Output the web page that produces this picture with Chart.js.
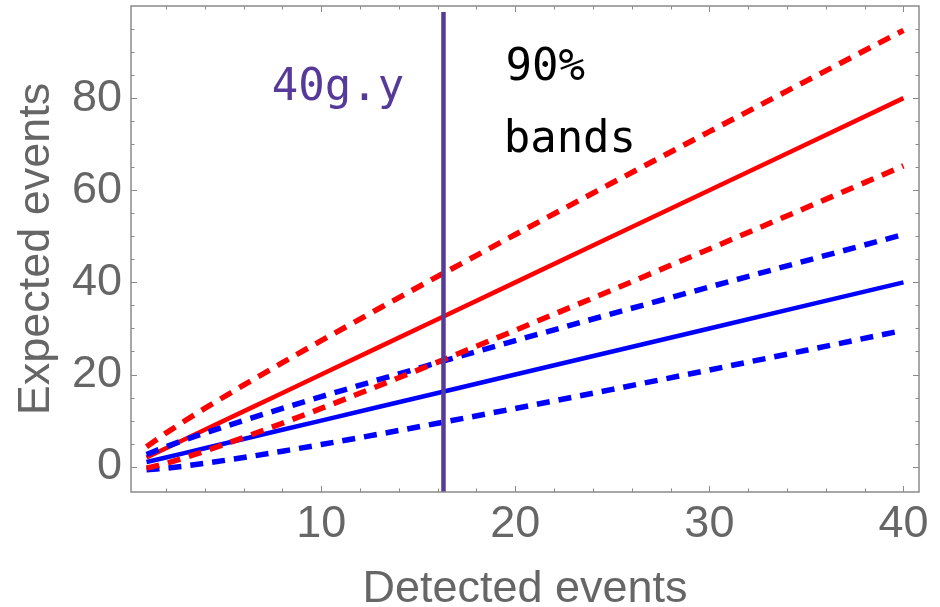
<!DOCTYPE html>
<html>
<head>
<meta charset="utf-8">
<script src="https://cdn.jsdelivr.net/npm/chart.js@4.4.0/dist/chart.umd.min.js"></script>
<style>
  html, body { margin: 0; padding: 0; background: #fff; }
  #wrap { width: 940px; height: 607px; }
</style>
</head>
<body>
<div id="wrap"><canvas id="chart"></canvas></div>
<script>
// detected events where the curves are sampled
const detected = [1, 2, 3, 4, 6, 8, 10, 13, 16, 20, 25, 30, 35, 40];
// red: central line and 90% band edges
const redMid   = [2, 4, 6, 8, 12, 16, 20, 26, 32, 40, 50, 60, 70, 80];
const redUpper = [4.33, 7.29, 10.03, 12.65, 17.70, 22.58, 27.36, 34.39, 41.31, 50.40, 61.63, 72.74, 83.76, 94.71];
const redLower = [-0.33, 0.71, 1.97, 3.35, 6.30, 9.42, 12.64, 17.61, 22.69, 29.60, 38.37, 47.26, 56.24, 65.29];
// blue: central line and 90% band edges
const blueMid   = [1, 2, 3, 4, 6, 8, 10, 13, 16, 20, 25, 30, 35, 40];
const blueUpper = [2.65, 4.33, 5.85, 7.29, 10.03, 12.65, 15.20, 18.93, 22.58, 27.36, 33.23, 39.01, 44.73, 50.40];
const blueLower = [-0.65, -0.33, 0.15, 0.71, 1.97, 3.35, 4.80, 7.07, 9.42, 12.64, 16.77, 20.99, 25.27, 29.60];
// vertical marker (40 g.y)
const markerX = [16.3, 16.3];
const markerY = [-5.5, 98.7];
// tick labels
const xTicks = [10, 20, 30, 40];
const yTicks = [0, 20, 40, 60, 80];

const RED = '#ff0000';
const BLUE = '#0000ff';
const PURPLE = '#553a9a';
const GREY = '#666666';

function pts(xs, ys) {
    return xs.map((x, i) => ({ x: x, y: ys[i] }));
}

function line(xs, ys, color, dashed) {
    return {
        data: pts(xs, ys),
        borderColor: color,
        borderWidth: dashed ? 5.5 : 4.5,
        borderDash: dashed ? [13, 9] : [],
        borderCapStyle: 'butt',
        pointRadius: 0,
        showLine: true,
        tension: 0
    };
}

// frame, inward ticks and the text labels
const framePlugin = {
    id: 'frame',
    afterDatasetsDraw(chart) {
        const { ctx, chartArea: a, scales: { x, y } } = chart;
        ctx.save();
        ctx.strokeStyle = '#8a8a8a';
        ctx.lineWidth = 1.5;
        ctx.strokeRect(a.left, a.top, a.right - a.left, a.bottom - a.top);

        ctx.lineWidth = 1;
        ctx.beginPath();
        for (let v = 2; v <= 40; v += 2) {
            const px = Math.round(x.getPixelForValue(v)) + 0.5;
            const len = v % 10 === 0 ? 6 : 3.5;
            ctx.moveTo(px, a.bottom); ctx.lineTo(px, a.bottom - len);
            ctx.moveTo(px, a.top); ctx.lineTo(px, a.top + len);
        }
        for (let v = 0; v <= 95; v += 5) {
            const py = Math.round(y.getPixelForValue(v)) + 0.5;
            const len = v % 20 === 0 ? 6 : 3.5;
            ctx.moveTo(a.left, py); ctx.lineTo(a.left + len, py);
            ctx.moveTo(a.right, py); ctx.lineTo(a.right - len, py);
        }
        ctx.stroke();

        ctx.font = '44px "DejaVu Sans Mono"';
        ctx.textBaseline = 'alphabetic';
        ctx.textAlign = 'left';
        ctx.fillStyle = PURPLE;
        ctx.fillText('40g.y', x.getPixelForValue(7.45), y.getPixelForValue(79.6));
        ctx.fillStyle = '#000';
        ctx.fillText('90%', x.getPixelForValue(19.5), y.getPixelForValue(84.0));
        ctx.fillText('bands', x.getPixelForValue(19.4), y.getPixelForValue(68.3));
        ctx.restore();
    }
};

new Chart(document.getElementById('chart'), {
    type: 'scatter',
    data: {
        datasets: [
            line(markerX, markerY, PURPLE, false),
            line(detected, redUpper, RED, true),
            line(detected, redLower, RED, true),
            line(detected, blueUpper, BLUE, true),
            line(detected, blueLower, BLUE, true),
            line(detected, redMid, RED, false),
            line(detected, blueMid, BLUE, false)
        ]
    },
    options: {
        responsive: true,
        maintainAspectRatio: false,
        animation: false,
        layout: { padding: { top: 6, right: 21, left: 0, bottom: 0 } },
        plugins: {
            legend: { display: false },
            tooltip: { enabled: false }
        },
        scales: {
            x: {
                type: 'linear',
                min: 0.2,
                max: 40.8,
                afterFit: s => { s.height = 115; s.paddingLeft = 0; s.paddingRight = 0; },
                afterBuildTicks: s => { s.ticks = xTicks.map(v => ({ value: v })); },
                grid: { display: false, drawTicks: false },
                border: { display: false },
                ticks: {
                    color: GREY,
                    padding: 6,
                    maxRotation: 0,
                    font: { family: '"Liberation Sans", Arial, sans-serif', size: 45 }
                },
                title: {
                    display: true,
                    text: 'Detected events',
                    color: GREY,
                    padding: { top: 0, bottom: -10 },
                    font: { family: '"Liberation Sans", Arial, sans-serif', size: 45 }
                }
            },
            y: {
                type: 'linear',
                min: -5.5,
                max: 100,
                afterFit: s => { s.width = 131; s.paddingTop = 0; s.paddingBottom = 0; },
                afterBuildTicks: s => { s.ticks = yTicks.map(v => ({ value: v })); },
                grid: { display: false, drawTicks: false },
                border: { display: false },
                ticks: {
                    color: GREY,
                    padding: 9,
                    font: { family: '"Liberation Sans", Arial, sans-serif', size: 45 }
                },
                title: {
                    display: true,
                    text: 'Expected events',
                    color: GREY,
                    padding: { top: 10, bottom: 0 },
                    font: { family: '"Liberation Sans", Arial, sans-serif', size: 45 }
                }
            }
        }
    },
    plugins: [framePlugin]
});
</script>
</body>
</html>
